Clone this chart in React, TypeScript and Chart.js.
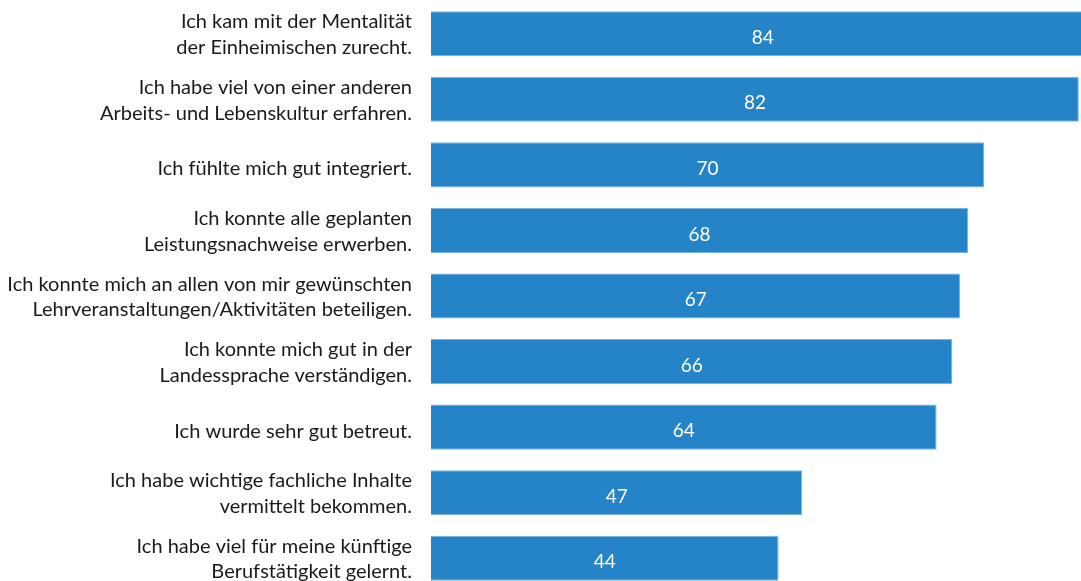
import React, { useEffect, useRef } from "react";
import { Chart, registerables } from "chart.js";

Chart.register(...registerables);

const categories: string[][] = [
  ["Ich kam mit der Mentalität", "der Einheimischen zurecht."],
  ["Ich habe viel von einer anderen", "Arbeits- und Lebenskultur erfahren."],
  ["Ich fühlte mich gut integriert."],
  ["Ich konnte alle geplanten", "Leistungsnachweise erwerben."],
  ["Ich konnte mich an allen von mir gewünschten", "Lehrveranstaltungen/Aktivitäten beteiligen."],
  ["Ich konnte mich gut in der", "Landessprache verständigen."],
  ["Ich wurde sehr gut betreut."],
  ["Ich habe wichtige fachliche Inhalte", "vermittelt bekommen."],
  ["Ich habe viel für meine künftige", "Berufstätigkeit gelernt."],
];

const values: number[] = [84, 82, 70, 68, 67, 66, 64, 47, 44];

const FONT = "Lato, 'Noto Sans', sans-serif";
const LINE_GAP = 25.5;

const drawLabels = {
  id: "drawLabels",
  afterDatasetsDraw(chart: any) {
    const ctx = chart.ctx;
    const meta = chart.getDatasetMeta(0);
    const yScale = chart.scales.y;
    ctx.save();
    // value labels
    ctx.fillStyle = "#ffffff";
    ctx.font = `19px ${FONT}`;
    ctx.textAlign = "center";
    ctx.textBaseline = "middle";
    meta.data.forEach((bar: any, i: number) => {
      const cx = (bar.x + bar.base) / 2;
      ctx.fillText(String(values[i]), cx, bar.y + 4);
    });
    // category labels
    ctx.fillStyle = "#1a1a1a";
    ctx.font = `20px ${FONT}`;
    ctx.textAlign = "right";
    const xRight = chart.chartArea.left - 19;
    categories.forEach((lines, i) => {
      const cy = yScale.getPixelForValue(i);
      const n = lines.length;
      const shift = n === 1 ? 4 : 1;
      lines.forEach((line, j) => {
        const y = cy + (j - (n - 1) / 2) * LINE_GAP + shift;
        ctx.fillText(line, xRight, y);
      });
    });
    ctx.restore();
  },
};

export default function App() {
  const ref = useRef<HTMLCanvasElement | null>(null);

  useEffect(() => {
    if (!ref.current) return;
    const chart = new Chart(ref.current, {
      type: "bar",
      data: {
        labels: categories.map((l) => l.join(" ")),
        datasets: [
          {
            data: values,
            backgroundColor: "#2584C7",
            borderColor: "#7AB4E0",
            borderWidth: 1,
            barPercentage: 0.687,
            categoryPercentage: 1,
          },
        ],
      },
      options: {
        indexAxis: "y",
        responsive: false,
        animation: false,
        layout: { padding: { top: 1, bottom: 1, left: 0, right: 0 } },
        plugins: {
          legend: { display: false },
          tooltip: { enabled: false },
        },
        scales: {
          x: {
            display: false,
            min: 0,
            max: 100,
          },
          y: {
            grid: { display: false, drawTicks: false },
            border: { display: false },
            ticks: { display: false },
            afterFit(scale: any) {
              scale.width = 431;
              scale.paddingTop = 0;
              scale.paddingBottom = 0;
            },
          },
        },
      },
      plugins: [drawLabels],
    });
    return () => chart.destroy();
  }, []);

  return (
    <div
      style={{
        position: "absolute",
        left: 0,
        top: 0,
        width: 1081,
        height: 581,
        overflow: "hidden",
        background: "#ffffff",
      }}
    >
      <canvas ref={ref} width={1221} height={592} style={{ display: "block" }} />
    </div>
  );
}
